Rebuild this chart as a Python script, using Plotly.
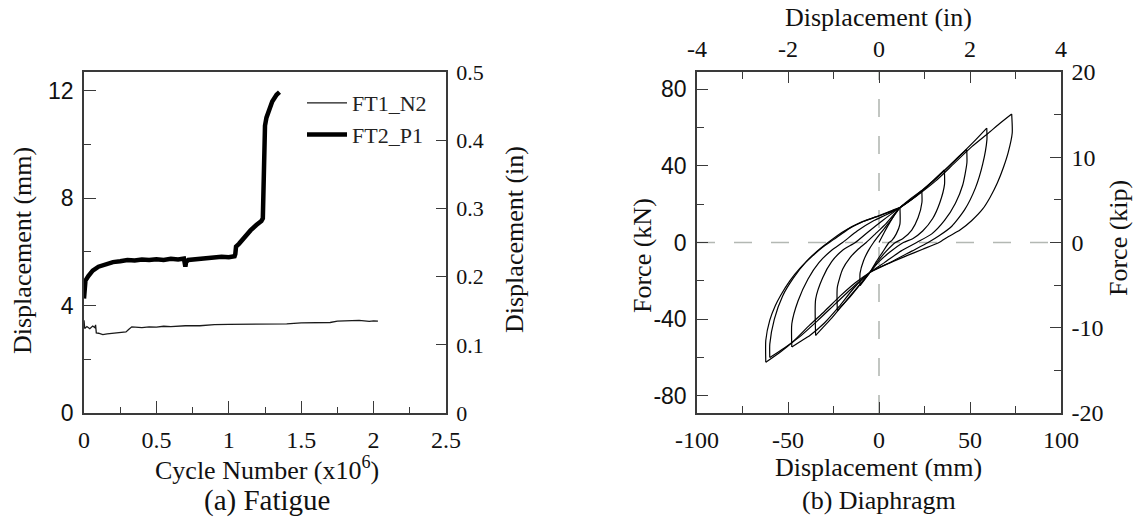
import plotly.graph_objects as go

W, H = 1145, 521

# ---------------- (a) Fatigue data ----------------
ft1_cycles = [0.0, 0.005, 0.02, 0.04, 0.06, 0.075, 0.08, 0.085, 0.10, 0.13, 0.16, 0.20, 0.25, 0.29,
              0.31, 0.33, 0.40, 0.45, 0.50, 0.55, 0.60, 0.70, 0.80, 0.90, 1.00, 1.10, 1.20, 1.30,
              1.40, 1.50, 1.60, 1.70, 1.75, 1.80, 1.90, 1.97, 2.00, 2.03]
ft1_disp_mm = [3.45, 3.15, 3.22, 3.14, 3.24, 3.18, 3.28, 2.98, 2.97, 2.92, 2.95, 2.97, 3.0, 3.02,
               3.12, 3.21, 3.18, 3.21, 3.20, 3.23, 3.22, 3.25, 3.25, 3.29, 3.30, 3.31, 3.32, 3.33,
               3.32, 3.36, 3.37, 3.37, 3.42, 3.43, 3.45, 3.41, 3.43, 3.42]

ft2_cycles = [0.0, 0.004, 0.01, 0.03, 0.06, 0.10, 0.15, 0.20, 0.25, 0.30, 0.35, 0.40, 0.45, 0.50,
              0.55, 0.60, 0.65, 0.69, 0.70, 0.705, 0.72, 0.80, 0.85, 0.90, 0.95, 1.00, 1.04, 1.045,
              1.05, 1.07, 1.10, 1.15, 1.19, 1.225, 1.235, 1.24, 1.245, 1.25, 1.26, 1.28, 1.30, 1.33, 1.35]
ft2_disp_mm = [4.26, 4.60, 4.93, 5.10, 5.30, 5.45, 5.55, 5.62, 5.65, 5.70, 5.68, 5.72, 5.70, 5.73,
               5.70, 5.74, 5.72, 5.75, 5.45, 5.62, 5.70, 5.75, 5.78, 5.80, 5.82, 5.80, 5.84, 5.92,
               6.20, 6.30, 6.50, 6.80, 7.00, 7.15, 7.25, 8.50, 10.0, 10.7, 11.0, 11.3, 11.6, 11.85, 11.95]

# ---------------- (b) Diaphragm hysteresis branches (mm, kN) ----------------
v0_mm = [0.0, 3.0, 6.0, 9.0, 11.5]
v0_kN = [0.0, 5.5, 10.5, 15.0, 18.2]

u1_mm = [11.5, 11.5, 9.5, 7.0, 5.5, 2.0, -1.5, -5.0, -8.0, -10.4]
u1_kN = [18.2, 9.6, 4.5, 1.0, 0.0, -5.0, -10.0, -15.6, -19.5, -22.5]
l1_mm = [-10.4, -10.4, -8.5, -6.0, -3.0, 1.0, 6.0, 11.5, 17.0, 23.5]
l1_kN = [-22.5, -16.0, -9.5, -4.5, 0.0, 5.0, 11.0, 18.2, 22.6, 27.2]

u2_mm = [23.5, 23.6, 21.5, 18.0, 13.0, 9.0, 4.0, 0.0, -5.0, -10.0, -16.0, -22.9]
u2_kN = [27.2, 21.0, 13.0, 6.5, 2.0, 0.0, -4.5, -9.0, -15.6, -21.5, -28.5, -35.5]
l2_mm = [-22.9, -22.9, -20.0, -16.0, -11.5, -7.0, -2.0, 4.0, 11.5, 18.0, 24.0, 30.0, 35.9]
l2_kN = [-35.5, -23.4, -14.0, -8.0, -3.5, 0.0, 4.5, 10.0, 18.2, 22.7, 27.5, 32.5, 37.8]

u3_mm = [35.9, 36.0, 33.5, 29.5, 24.0, 18.5, 13.4, 6.0, 0.0, -5.0, -12.0, -19.0, -26.0, -30.5, -34.8]
u3_kN = [37.8, 30.3, 21.0, 12.5, 6.0, 2.0, 0.0, -5.0, -10.0, -15.6, -23.5, -31.5, -39.5, -44.0, -48.5]
l3_mm = [-34.8, -34.8, -31.0, -26.0, -20.0, -13.0, -6.0, 2.0, 11.5, 20.0, 28.0, 36.0, 42.0, 48.2]
l3_kN = [-48.5, -29.5, -18.5, -10.0, -4.0, 0.0, 5.5, 11.5, 18.2, 24.0, 30.5, 37.5, 43.0, 48.5]

u4_mm = [48.2, 48.3, 46.0, 42.0, 36.0, 29.0, 20.7, 12.0, 3.0, -5.0, -14.0, -22.0, -30.0, -38.0, -43.0, -47.9]
u4_kN = [48.5, 41.6, 30.0, 20.5, 11.5, 4.5, 0.0, -4.5, -10.5, -15.6, -24.0, -33.5, -42.0, -48.5, -51.5, -54.5]
l4_mm = [-47.9, -47.9, -44.5, -39.0, -33.0, -26.0, -20.0, -12.0, -3.0, 4.0, 11.5, 22.0, 33.0, 44.0, 52.0, 59.2]
l4_kN = [-54.5, -42.4, -30.5, -19.0, -10.5, -4.0, 0.0, 6.0, 11.3, 14.5, 18.2, 25.5, 35.0, 45.0, 52.5, 59.7]

u5_mm = [59.2, 59.3, 57.0, 53.0, 47.0, 40.0, 33.0, 27.0, 18.0, 7.0, -5.0, -15.0, -24.0, -34.0, -44.0, -52.0, -60.0]
u5_kN = [59.7, 53.7, 41.0, 28.5, 17.0, 8.5, 3.5, 0.0, -4.5, -10.0, -15.6, -24.0, -32.0, -41.0, -49.5, -55.0, -60.0]
l5_mm = [-60.0, -60.0, -57.5, -53.0, -47.0, -40.0, -34.0, -28.0, -20.0, -10.0, 0.5, 11.5, 21.0, 31.0, 41.0, 51.0, 60.0, 66.0, 72.9]
l5_kN = [-60.0, -53.0, -40.0, -28.0, -18.5, -10.0, -4.5, 0.0, 5.5, 10.5, 14.0, 18.2, 24.5, 32.0, 41.0, 50.0, 57.0, 61.8, 67.0]

u6_mm = [72.9, 73.2, 71.0, 68.5, 65.0, 61.0, 57.0, 51.0, 44.5, 38.0, 33.0, 24.0, 15.0, 5.0, -5.0, -13.0,
         -21.4, -30.0, -38.0, -47.0, -54.0, -62.2]
u6_kN = [67.0, 57.1, 47.0, 39.5, 31.0, 23.5, 17.5, 11.5, 6.5, 3.0, 0.0, -3.5, -7.0, -11.0, -15.6, -21.0,
         -28.0, -36.0, -43.0, -51.5, -57.0, -62.5]
l6_mm = [-62.2, -62.2, -60.0, -57.0, -54.0, -49.0, -43.5, -36.5, -31.0, -25.0, -16.0, -8.0, 0.5, 6.0, 11.5]
l6_kN = [-62.5, -51.0, -40.5, -33.0, -27.5, -20.0, -13.5, -7.0, -2.5, 1.5, 7.5, 11.2, 14.2, 16.3, 18.2]

branches_mm = [v0_mm, u1_mm, l1_mm, u2_mm, l2_mm, u3_mm, l3_mm, u4_mm, l4_mm, u5_mm, l5_mm, u6_mm, l6_mm]
branches_kN = [v0_kN, u1_kN, l1_kN, u2_kN, l2_kN, u3_kN, l3_kN, u4_kN, l4_kN, u5_kN, l5_kN, u6_kN, l6_kN]

# tick values (labels use a plain hyphen minus, as in the reference)
fat_x_ticks = [0, 0.5, 1, 1.5, 2, 2.5]
fat_y_mm_ticks = [0, 4, 8, 12]
fat_y_in_ticks = [0, 0.1, 0.2, 0.3, 0.4, 0.5]
dia_x_mm_ticks = [-100, -50, 0, 50, 100]
dia_x_in_ticks = [-4, -2, 0, 2, 4]
dia_y_kN_ticks = [-80, -40, 0, 40, 80]
dia_y_kip_ticks = [-20, -10, 0, 10, 20]


def lab(vals):
    return [("%g" % v) for v in vals]


# ---------------- layout helpers ----------------
def px(x):
    return x / W


def py(y):
    return 1 - y / H


SERIF = "Liberation Serif, Times New Roman, serif"
SANS = "Liberation Sans, Arial, sans-serif"
AXC = "#3a3a3a"

left_dom = [px(84), px(446)]
right_dom = [px(697), px(1061)]
ydom = [py(413), py(72)]

fig = go.Figure()

fig.add_trace(go.Scatter(x=ft1_cycles, y=ft1_disp_mm, mode="lines", name="FT1_N2",
                         line=dict(color="#1a1a1a", width=1.3), xaxis="x", yaxis="y"))
fig.add_trace(go.Scatter(x=ft2_cycles, y=ft2_disp_mm, mode="lines", name="FT2_P1",
                         line=dict(color="black", width=4.5), xaxis="x", yaxis="y"))

for bx, by in zip(branches_mm, branches_kN):
    fig.add_trace(go.Scatter(x=bx, y=by, mode="lines", showlegend=False,
                             line=dict(color="black", width=1.2, shape="spline", smoothing=0.6),
                             xaxis="x2", yaxis="y3"))

# empty carrier traces so that the secondary (unit-conversion) axes get drawn
for xa, ya in [("x", "y2"), ("x3", "y3"), ("x2", "y4")]:
    fig.add_trace(go.Scatter(x=[None], y=[None], mode="lines", showlegend=False,
                             hoverinfo="skip", xaxis=xa, yaxis=ya))


def axis_common(**kw):
    d = dict(showline=True, linecolor=AXC, linewidth=1.5, ticks="inside", tickcolor=AXC,
             tickwidth=1.3, showgrid=False, zeroline=False, automargin=False)
    d.update(kw)
    return d


def minor(dt, ln=7):
    return dict(ticks="inside", ticklen=ln, dtick=dt, tickcolor=AXC, tickwidth=1.2, showgrid=False)


fig.update_layout(
    width=W, height=H, margin=dict(l=0, r=0, t=0, b=0, autoexpand=False),
    paper_bgcolor="white", plot_bgcolor="white",
    showlegend=True,
    legend=dict(x=px(302), y=py(82), xanchor="left", yanchor="top",
                font=dict(family=SERIF, size=22, color="#222"),
                bgcolor="rgba(0,0,0,0)", itemwidth=40, tracegroupgap=0),
    xaxis=axis_common(domain=left_dom, anchor="y", range=[0, 2.5], tickvals=fat_x_ticks,
                      ticktext=lab(fat_x_ticks), ticklen=12, mirror=True, minor=minor(0.25, 6),
                      tickfont=dict(family=SERIF, size=24, color="#111"), ticklabelstandoff=4),
    yaxis=axis_common(domain=ydom, anchor="x", range=[0, 12.7], tickvals=fat_y_mm_ticks,
                      ticktext=lab(fat_y_mm_ticks), ticklen=12, minor=minor(2),
                      tickfont=dict(family=SANS, size=23, color="#111"), ticklabelstandoff=4),
    yaxis2=axis_common(domain=ydom, anchor="x", overlaying="y", side="right", range=[0, 0.5],
                       tickvals=fat_y_in_ticks, ticktext=lab(fat_y_in_ticks), ticklen=10,
                       tickfont=dict(family=SERIF, size=22, color="#111"), ticklabelstandoff=4),
    xaxis2=axis_common(domain=right_dom, anchor="y3", range=[-100, 100], tickvals=dia_x_mm_ticks,
                       ticktext=lab(dia_x_mm_ticks), ticklen=11, minor=minor(25),
                       tickfont=dict(family=SERIF, size=24, color="#111"), ticklabelstandoff=4),
    xaxis3=axis_common(domain=right_dom, anchor="y3", overlaying="x2", side="top", range=[-4, 4],
                       tickvals=dia_x_in_ticks, ticktext=lab(dia_x_in_ticks), ticklen=11, minor=minor(1),
                       tickfont=dict(family=SERIF, size=24, color="#111"), ticklabelstandoff=4),
    yaxis3=axis_common(domain=ydom, anchor="x2", range=[-88.96, 88.96], tickvals=dia_y_kN_ticks,
                       ticktext=lab(dia_y_kN_ticks), ticklen=11, minor=minor(20),
                       tickfont=dict(family=SANS, size=23, color="#111"), ticklabelstandoff=4),
    yaxis4=axis_common(domain=ydom, anchor="x2", overlaying="y3", side="right", range=[-20, 20],
                       tickvals=dia_y_kip_ticks, ticktext=lab(dia_y_kip_ticks), ticklen=11, minor=minor(5),
                       tickfont=dict(family=SERIF, size=24, color="#111"), ticklabelstandoff=4),
)

# dashed zero reference lines on diaphragm panel
fig.add_shape(type="line", xref="x2", yref="y3 domain", x0=0, x1=0, y0=0, y1=1,
              line=dict(color="#b3b8b3", width=1.6, dash="18px,19px"), layer="below")
fig.add_shape(type="line", xref="x2 domain", yref="y3", x0=0, x1=1, y0=0, y1=0,
              line=dict(color="#b3b8b3", width=1.6, dash="18px,19px"), layer="below")


def ann(text, x, y, size=26, angle=0):
    fig.add_annotation(text=text, x=px(x), y=py(y), xref="paper", yref="paper",
                       showarrow=False, textangle=angle, xanchor="center", yanchor="middle",
                       font=dict(family=SERIF, size=size, color="#111"))


ann("Displacement (mm)", 22, 251, angle=-90)
ann("Displacement (in)", 514, 240, angle=-90)
ann("Cycle Number (x10<sup>6</sup>)", 267, 468)
ann("(a) Fatigue", 267, 500, size=29)
ann("Force (kN)", 642, 256, angle=-90)
ann("Force (kip)", 1118, 238, angle=-90)
ann("Displacement (in)", 879, 17)
ann("Displacement (mm)", 879, 467)
ann("(b) Diaphragm", 879, 500)

fig.write_html("out.html")
